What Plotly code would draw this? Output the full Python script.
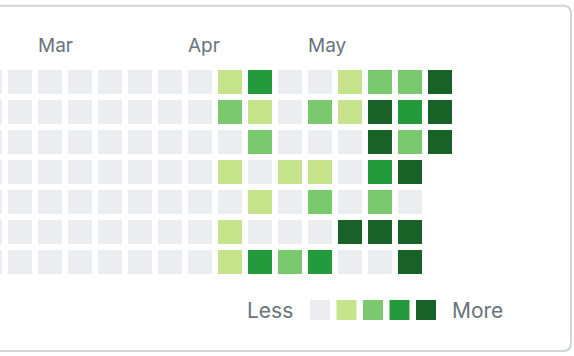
import plotly.graph_objects as go

# ---------------- data ----------------
# contribution level (0..4) per weekday row (Sun..Sat), per week column (first column is cut off)
row_sun = [0, 0, 0, 0, 0, 0, 0, 0, 1, 3, 0, 0, 1, 2, 2, 4]
row_mon = [0, 0, 0, 0, 0, 0, 0, 0, 2, 1, 0, 2, 1, 4, 3, 4]
row_tue = [0, 0, 0, 0, 0, 0, 0, 0, 0, 2, 0, 0, 0, 4, 2, 4]
row_wed = [0, 0, 0, 0, 0, 0, 0, 0, 1, 0, 1, 1, 0, 3, 4, None]
row_thu = [0, 0, 0, 0, 0, 0, 0, 0, 0, 1, 0, 2, 0, 2, 0, None]
row_fri = [0, 0, 0, 0, 0, 0, 0, 0, 1, 0, 0, 0, 4, 4, 4, None]
row_sat = [0, 0, 0, 0, 0, 0, 0, 0, 1, 3, 2, 3, 0, 0, 4, None]

month_labels = ["Mar", "Apr", "May"]
month_columns = [2, 7, 11]

legend_levels = [0, 1, 2, 3, 4]
level_colors = ["#ebedf0", "#c6e48b", "#7bc96f", "#239a3b", "#196127"]

# ---------------- layout constants ----------------
W, H = 574, 356
PITCH = 30          # px per cell step
GAP = 6             # px gap between cells
TEXT = "#6a737d"
FONT = "Inter, Liberation Sans, sans-serif"

z = [row_sun, row_mon, row_tue, row_wed, row_thu, row_fri, row_sat]
n_cols = len(row_sun)

# discrete colour scale
cs = []
n = len(level_colors)
for i, c in enumerate(level_colors):
    cs.append([i / n, c])
    cs.append([(i + 1) / n, c])

fig = go.Figure()

fig.add_trace(go.Heatmap(
    z=z,
    x=list(range(n_cols)),
    y=list(range(len(z))),
    colorscale=cs,
    zmin=-0.5, zmax=n - 0.5,
    xgap=GAP, ygap=GAP,
    showscale=False,
    hoverinfo="skip",
))

# legend squares on a pixel-unit overlay axis
leg_x0, leg_step, leg_y = 320, 26.5, 310
fig.add_trace(go.Scatter(
    x=[leg_x0 + leg_step * i for i in range(len(legend_levels))],
    y=[leg_y] * len(legend_levels),
    mode="markers",
    marker=dict(symbol="square", size=20, color=[level_colors[l] for l in legend_levels],
                line=dict(width=0)),
    xaxis="x2", yaxis="y2",
    hoverinfo="skip",
    showlegend=False,
))

x_start = 10 / PITCH            # first column center lies 10px left of the edge
y_top = -82 / PITCH             # first row center at 82px from top

annotations = []
for lab, col in zip(month_labels, month_columns):
    annotations.append(dict(
        x=col - 12 / PITCH, y=y_top + 45.5 / PITCH, xref="x", yref="y",
        text=lab, showarrow=False, xanchor="left", yanchor="middle",
        font=dict(family=FONT, size=19, color=TEXT), xshift=-2,
    ))
annotations.append(dict(x=293, y=310, xref="x2", yref="y2", text="Less", showarrow=False,
                        xanchor="right", yanchor="middle", xshift=2,
                        font=dict(family=FONT, size=21, color=TEXT)))
annotations.append(dict(x=452, y=310, xref="x2", yref="y2", text="More", showarrow=False,
                        xanchor="left", yanchor="middle", xshift=-2,
                        font=dict(family=FONT, size=21, color=TEXT)))

border = ("M -10,5.7 H 563 Q 571,5.7 571,13.7 V 343 Q 571,351 563,351 H -10")

fig.update_layout(
    width=W, height=H,
    margin=dict(l=0, r=0, t=0, b=0),
    paper_bgcolor="white", plot_bgcolor="rgba(0,0,0,0)",
    showlegend=False,
    xaxis=dict(range=[x_start, x_start + W / PITCH], visible=False, fixedrange=True),
    yaxis=dict(range=[y_top + H / PITCH, y_top], visible=False, fixedrange=True),
    xaxis2=dict(range=[0, W], visible=False, anchor="y2", overlaying="x", fixedrange=True),
    yaxis2=dict(range=[H, 0], visible=False, anchor="x2", overlaying="y", fixedrange=True),
    annotations=annotations,
    shapes=[dict(type="path", path=border, xref="x2", yref="y2",
                 line=dict(color="#d1d5da", width=2), layer="above")],
)

fig.write_html(
    "out.html",
    config={"displayModeBar": False},
    post_script="document.body.style.margin='0';document.body.style.overflow='hidden';",
)
